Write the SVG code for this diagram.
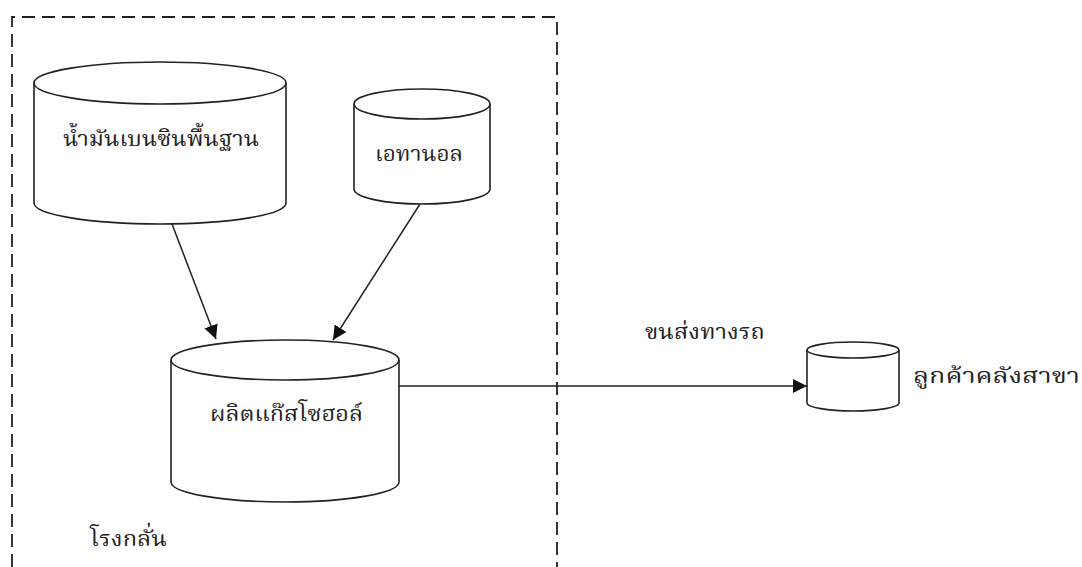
<svg xmlns="http://www.w3.org/2000/svg" width="1082" height="567" viewBox="0 0 1082 567">
<defs>
<style>
.cyl{fill:#fff;stroke:#222;stroke-width:1.6}
.edge{fill:none;stroke:#222;stroke-width:1.5}
.box{fill:none;stroke:#222;stroke-width:1.8;stroke-dasharray:13 7}
.lbl{font-family:"Noto Serif Thai","Noto Sans Thai","Liberation Serif",serif;font-size:22px;fill:#222}
</style>
<marker id="arr" viewBox="0 0 10 10" refX="10" refY="5" markerWidth="14" markerHeight="14" markerUnits="userSpaceOnUse" orient="auto">
<path d="M0,0 L10,5 L0,10 Z" fill="#111"/>
</marker>
</defs>
<rect width="1082" height="567" fill="#fff"/>
<path class="box" d="M12,567 L12,17 L557,17 L557,567"/>
<g id="n1">
<path class="cyl" d="M34,83 L34,203 A126,21 0 0 0 286,203 L286,83"/>
<ellipse class="cyl" cx="160" cy="83" rx="126" ry="21"/>
<text class="lbl" x="63" y="146" textLength="196" lengthAdjust="spacingAndGlyphs">น้ำมันเบนซินพื้นฐาน</text>
</g>
<g id="n2">
<path class="cyl" d="M354,104 L354,189 A68,15 0 0 0 490,189 L490,104"/>
<ellipse class="cyl" cx="422" cy="104" rx="68" ry="15"/>
<text class="lbl" x="375" y="161" textLength="88" lengthAdjust="spacingAndGlyphs">เอทานอล</text>
</g>
<g id="n3">
<path class="cyl" d="M171,360 L171,482 A114,20 0 0 0 399,482 L399,360"/>
<ellipse class="cyl" cx="285" cy="360" rx="114" ry="20"/>
<text class="lbl" x="210" y="421" textLength="153" lengthAdjust="spacingAndGlyphs">ผลิตแก๊สโซฮอล์</text>
</g>
<g id="n4">
<path class="cyl" d="M807,350 L807,403 A46,8 0 0 0 899,403 L899,350"/>
<ellipse class="cyl" cx="853" cy="350" rx="46" ry="8"/>
<text class="lbl" x="913" y="383" textLength="167" lengthAdjust="spacingAndGlyphs">ลูกค้าคลังสาขา</text>
</g>
<g id="n5">
<text class="lbl" x="90" y="546" textLength="77" lengthAdjust="spacingAndGlyphs">โรงกลั่น</text>
</g>
<g id="connectors">
<line class="edge" x1="172" y1="224" x2="216" y2="339" marker-end="url(#arr)"/>
<line class="edge" x1="420" y1="204" x2="333" y2="340" marker-end="url(#arr)"/>
<line class="edge" x1="399" y1="386" x2="807" y2="386" marker-end="url(#arr)"/>
<text class="lbl" x="645" y="339" textLength="120" lengthAdjust="spacingAndGlyphs">ขนส่งทางรถ</text>
</g>
</svg>
